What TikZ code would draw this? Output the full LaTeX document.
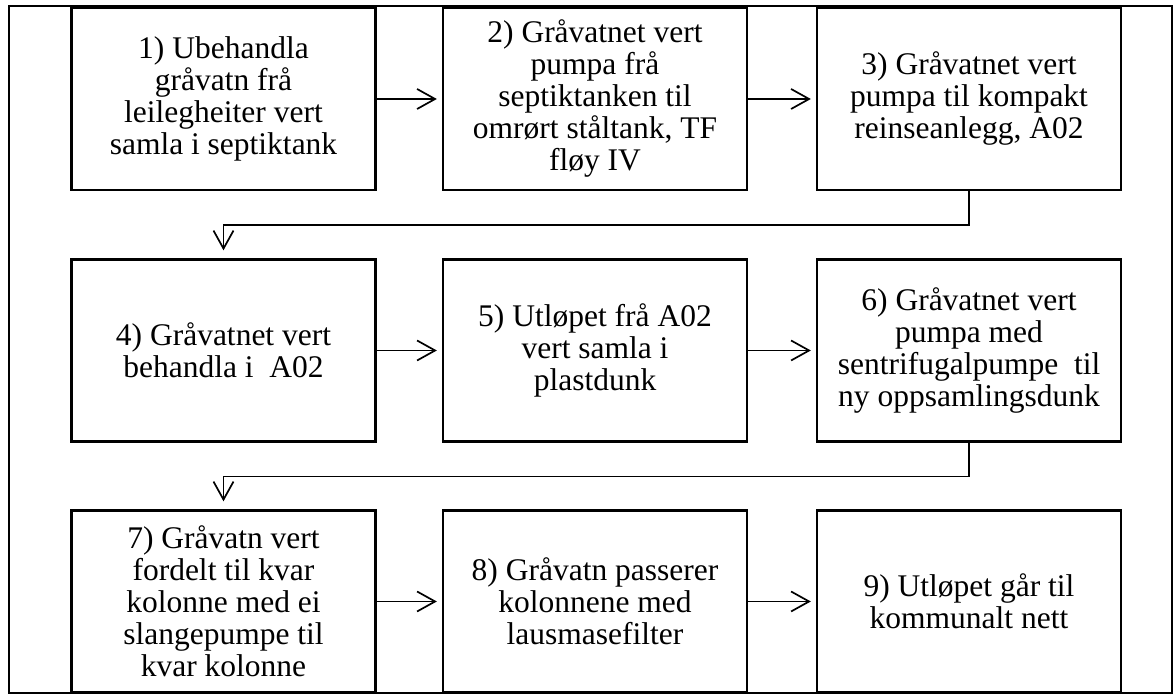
\documentclass[tikz,border=0pt]{standalone}
\usepackage{fontspec}
\setmainfont{Liberation Serif}
\usetikzlibrary{arrows.meta}

\begin{document}
\begin{tikzpicture}[
    x=0.5pt, y=0.5pt,                       % <- one unit = one pixel of the sheet
    stage/.style={draw=black, line width=1.15pt, minimum width=152pt, minimum height=91pt,
                  inner sep=2pt, align=center, font=\fontsize{15.75pt}{16pt}\selectfont},
    flow/.style={line width=0.85pt, -{Straight Barb[length=9pt, width=10pt]}},
    rim/.style={line width=0.65pt},
  ]

  \useasboundingbox (0,0) rectangle (1173,695);

  % ---------- outer frame ----------
  \draw[rim] (9,2) rectangle (1172,689);

  % ---------- process stages (x = column centre, y = row centre) ----------
  \foreach \n/\x/\y/\txt in {%
    1/223.5/596/{1) Ubehandla\\gråvatn frå\\leilegheiter vert\\samla i septiktank},
    2/595/596/{2) Gråvatnet vert\\pumpa frå\\septiktanken til\\omrørt ståltank, TF\\fløy IV},
    3/969/596/{3) Gråvatnet vert\\pumpa til kompakt\\reinseanlegg, A02},
    4/223.5/344.5/{4) Gråvatnet vert\\behandla i\ \ A02},
    5/595/344.5/{5) Utløpet frå A02\\vert samla i\\plastdunk},
    6/969/344.5/{6) Gråvatnet vert\\pumpa med\\sentrifugalpumpe\ \ til\\ny oppsamlingsdunk},
    7/223.5/93.5/{7) Gråvatn vert\\fordelt til kvar\\kolonne med ei\\slangepumpe til\\kvar kolonne},
    8/595/93.5/{8) Gråvatn passerer\\kolonnene med\\lausmasefilter},
  9/969/93.5/{9) Utløpet går til\\kommunalt nett}}{%
    \node[stage] (s\n) at (\x,\y) {\txt};
  }

  % ---------- connectors along each row ----------
  \foreach \a/\b in {1/2, 2/3, 4/5, 5/6, 7/8, 8/9}
  \draw[flow, shorten >=2.5pt] (s\a) -- (s\b);

  % ---------- return connectors to the next row ----------
  \draw[flow, shorten >=4pt] (s3.south) -- ++(0,-34) -| (s4.north);
  \draw[flow, shorten >=4pt] (s6.south) -- ++(0,-34) -| (s7.north);

\end{tikzpicture}
\end{document}
